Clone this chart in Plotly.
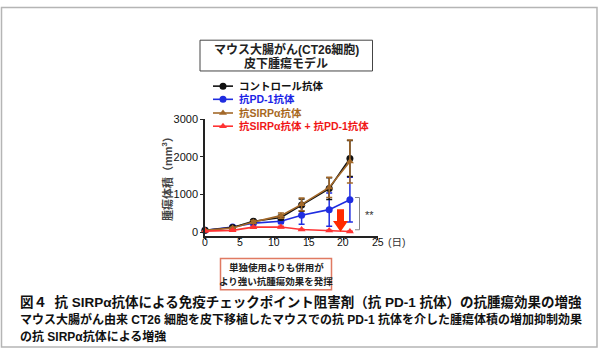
import plotly.graph_objects as go

# ---------------- data ----------------
days = [0, 4, 7, 11, 14, 18, 21]
control = [50, 125, 290, 390, 720, 1160, 1960]
control_err = [10, 20, 40, 60, 160, 290, 480]
pd1 = [50, 137, 240, 290, 450, 600, 865]
pd1_err = [10, 20, 40, 60, 240, 440, 595]
sirpa = [50, 110, 270, 440, 740, 1190, 1880]
sirpa_err = [10, 20, 40, 70, 170, 270, 570]
combo = [30, 50, 135, 140, 70, 45, 18]
combo_err = [5, 10, 20, 20, 10, 10, 5]

series_names = ["コントロール抗体", "抗PD-1抗体", "抗SIRPα抗体", "抗SIRPα抗体 + 抗PD-1抗体"]
series_values = [control, pd1, sirpa, combo]
series_errors = [control_err, pd1_err, sirpa_err, combo_err]
line_colors = ["#111111", "#1f2de0", "#a3692a", "#ff3333"]
text_colors = ["#111111", "#1a24e6", "#a8681e", "#f01818"]
symbols = ["circle", "circle", "triangle-up", "triangle-up"]
draw_order = [1, 0, 2, 3]

x_ticks = [0, 5, 10, 15, 20, 25]
x_tick_labels = ["0", "5", "10", "15", "20", "25"]
y_ticks = [0, 1000, 2000, 3000]
y_range = [-91, 3000]
x_range = [0, 25]

title_lines = ["マウス大腸がん(CT26細胞)", "皮下腫瘍モデル"]
note_lines = ["単独使用よりも併用が", "より強い抗腫瘍効果を発揮"]
caption_lines = [
    "図４  抗 SIRPα抗体による免疫チェックポイント阻害剤（抗 PD-1 抗体）の抗腫瘍効果の増強",
    "マウス大腸がん由来 CT26 細胞を皮下移植したマウスでの抗 PD-1 抗体を介した腫瘍体積の増加抑制効果",
    "の抗 SIRPα抗体による増強",
]
y_title = "腫瘍体積（mm<sup>3</sup>）"
x_unit = "(日)"

FONT = "Liberation Sans, Arial, Noto Sans CJK JP"
W, H = 600, 350

fig = go.Figure()

# ---------------- main data ----------------
for i in draw_order:
    fig.add_trace(go.Scatter(
        x=days, y=series_values[i], mode="lines+markers",
        line=dict(color=line_colors[i], width=1.6),
        marker=dict(symbol=symbols[i], size=7, color=line_colors[i]),
        error_y=dict(type="data", array=series_errors[i], color=line_colors[i],
                     thickness=1.5, width=3),
        cliponaxis=False, showlegend=False, xaxis="x", yaxis="y",
    ))

# ---------------- manual legend (pixel overlay axes) ----------------
leg_rows = [82, 95.5, 109.5, 123]
for i, yy in enumerate(leg_rows):
    fig.add_trace(go.Scatter(
        x=[213, 233], y=[yy, yy], mode="lines",
        line=dict(color=line_colors[i], width=1.6),
        showlegend=False, xaxis="x2", yaxis="y2", hoverinfo="skip"))
    fig.add_trace(go.Scatter(
        x=[223], y=[yy], mode="markers",
        marker=dict(symbol=symbols[i], size=7, color=line_colors[i]),
        showlegend=False, xaxis="x2", yaxis="y2", hoverinfo="skip", cliponaxis=False))

annotations = []
shapes = []

def ann(x, y, text, size, color="#222222", xanchor="center", weight="normal", angle=0,
        xref="x2", yref="y2"):
    annotations.append(dict(x=x, y=y, xref=xref, yref=yref, text=text, showarrow=False,
                            xanchor=xanchor, yanchor="middle", textangle=angle,
                            font=dict(family=FONT, size=size, color=color, weight=weight)))

for i, yy in enumerate(leg_rows):
    ann(237, yy, series_names[i], 10.5, text_colors[i], xanchor="left", weight="bold")

# title box
shapes.append(dict(type="rect", xref="x2", yref="y2", x0=200, x1=372.5, y0=35, y1=66.5,
                   line=dict(color="#444444", width=1)))
ann(286, 44.5, title_lines[0], 12, "#222222", weight="bold")
ann(286, 58.5, title_lines[1], 12, "#222222", weight="bold")

# note box
shapes.append(dict(type="rect", xref="x2", yref="y2", x0=220.5, x1=331.5, y0=258.5, y1=290.5,
                   line=dict(color="#e07a62", width=1.5)))
ann(276, 267.5, note_lines[0], 9.5, "#222222", weight="bold")
ann(276, 281.5, note_lines[1], 9.5, "#222222", weight="bold")

# y title
ann(167, 174, y_title, 11, "#444444", weight="bold", angle=-90)
# x tick labels (placed through the data x-axis)
for tv, tl in zip(x_ticks, x_tick_labels):
    ann(tv, 241.5, tl, 10.5, "#111111", xref="x")
# x unit
ann(386, 241.5, x_unit, 10.5, "#333333", xanchor="left")

# bracket and stars
shapes.append(dict(type="path", xref="x2", yref="y2",
                   path="M 355,196 L 359.5,196 L 359.5,229 L 355,229",
                   line=dict(color="#888888", width=1)))
ann(369, 214, "**", 11, "#333333")

# red arrow
shapes.append(dict(type="path", xref="x2", yref="y2",
                   path="M 337,208 L 344,208 L 344,220 L 348,220 L 340.5,231 L 333,220 L 337,220 Z",
                   fillcolor="#ff2a00", line=dict(width=0)))

# captions
ann(18, 303, caption_lines[0], 13.5, "#111111", xanchor="left", weight="bold")
ann(18, 321, caption_lines[1], 12, "#111111", xanchor="left", weight="bold")
ann(18, 338, caption_lines[2], 12, "#111111", xanchor="left", weight="bold")

# outer border
shapes.append(dict(type="rect", xref="x2", yref="y2", x0=1.5, x1=597, y0=1.5, y1=349,
                   line=dict(color="#b5b5b5", width=1.5)))

fig.update_layout(
    width=W, height=H,
    margin=dict(l=0, r=0, t=0, b=0, pad=0),
    paper_bgcolor="white", plot_bgcolor="rgba(0,0,0,0)",
    font=dict(family=FONT, size=10, color="#111111"),
    xaxis=dict(domain=[205 / W, 377.5 / W], range=x_range, tickvals=x_ticks,
               showticklabels=False,
               showline=True, linecolor="#222222", linewidth=1.5, ticks="outside",
               ticklen=3, tickwidth=1.2, tickcolor="#222222", showgrid=False, zeroline=False,
               anchor="y", fixedrange=True),
    yaxis=dict(domain=[(H - 235) / H, (H - 116) / H], range=y_range, tickvals=y_ticks,
               showline=True, linecolor="#222222", linewidth=1.5, ticks="outside",
               ticklen=3, tickwidth=1.2, tickcolor="#222222", showgrid=False, zeroline=False,
               tickfont=dict(size=11, color="#111111"), anchor="x", fixedrange=True),
    xaxis2=dict(domain=[0, 1], range=[0, W], visible=False, anchor="y2", fixedrange=True),
    yaxis2=dict(domain=[0, 1], range=[H, 0], visible=False, anchor="x2", fixedrange=True),
    annotations=annotations, shapes=shapes, showlegend=False,
)

fig.write_html("out.html", config={"displayModeBar": False})
